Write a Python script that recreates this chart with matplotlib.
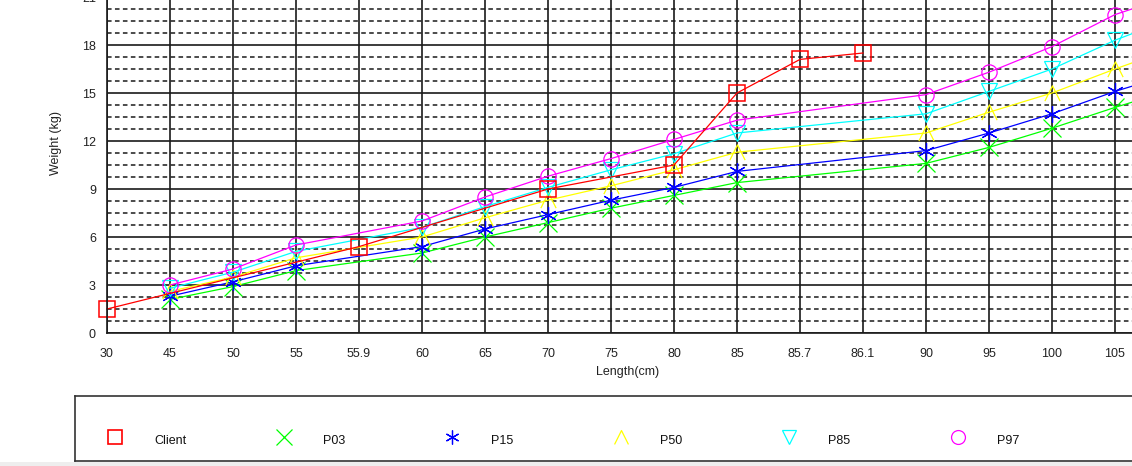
import numpy as np
import matplotlib
matplotlib.use("Agg")
import matplotlib.pyplot as plt
from matplotlib.path import Path
from matplotlib.ticker import MultipleLocator, FixedLocator
from matplotlib.patches import Rectangle

plt.rcParams['font.family'] = ['Liberation Sans', 'DejaVu Sans']

# x categories (evenly spaced on the chart); 110 lies past the cropped right edge
categories = ['30', '45', '50', '55', '55.9', '60', '65', '70', '75', '80',
              '85', '85.7', '86.1', '90', '95', '100', '105', '110']

client_x = ['30', '55.9', '70', '80', '85', '85.7', '86.1']
client_y = [1.5, 5.4, 9.0, 10.5, 15.0, 17.1, 17.5]

pct_x = ['45', '50', '55', '60', '65', '70', '75', '80', '85', '90', '95', '100', '105', '110']
p03 = [2.1, 2.9, 3.9, 5.0, 6.0, 6.9, 7.8, 8.6, 9.4, 10.6, 11.6, 12.8, 14.1, 15.3]
p15 = [2.3, 3.2, 4.2, 5.4, 6.5, 7.4, 8.3, 9.1, 10.1, 11.4, 12.5, 13.7, 15.1, 16.3]
p50 = [2.6, 3.5, 4.7, 6.0, 7.2, 8.3, 9.2, 10.2, 11.3, 12.5, 13.8, 15.0, 16.5, 17.9]
p85 = [2.8, 3.8, 5.1, 6.6, 7.9, 9.1, 10.2, 11.2, 12.5, 13.7, 15.1, 16.5, 18.3, 19.8]
p97 = [3.0, 4.0, 5.5, 7.0, 8.5, 9.8, 10.9, 12.1, 13.3, 14.9, 16.3, 17.9, 19.9, 21.2]

# open "A" marker (no base)
caret = Path([(-1, -1), (0, 1), (1, -1)], [Path.MOVETO, Path.LINETO, Path.LINETO])
asterisk = (6, 2, 0)

series = [
    ('P03', p03, '#00FF00', 'x', 13),
    ('P15', p15, '#0000FF', asterisk, 12),
    ('P50', p50, '#FFFF00', caret, 11),
    ('P85', p85, '#00FFFF', 'v', 11),
    ('P97', p97, '#FF00FF', 'o', 11),
]

W, H = 1132, 466
fig = plt.figure(figsize=(W / 100, H / 100), dpi=100)

def pos(labels):
    return [categories.index(s) for s in labels]

# main axes, partly outside the figure (the original is cropped)
ax = fig.add_axes([107 / W, 1 - 333 / H, 17 * 63 / W, 336 / H])
ax.set_xlim(0, len(categories) - 1)
ax.set_ylim(0, 21)

ax.xaxis.set_major_locator(FixedLocator(range(len(categories))))
ax.set_xticklabels(categories[:-1] + [''])
ax.yaxis.set_major_locator(MultipleLocator(3))
ax.yaxis.set_minor_locator(MultipleLocator(0.75))
ax.tick_params(axis='both', which='both', length=0, labelsize=9, colors='#222222')
ax.tick_params(axis='x', pad=11)
ax.tick_params(axis='y', pad=8)

ax.grid(True, axis='x', which='major', color='#1a1a1a', lw=1.2)
ax.grid(True, axis='y', which='major', color='#1a1a1a', lw=1.2)
ax.grid(True, axis='y', which='minor', color='#1a1a1a', lw=1.1, linestyle=(0, (3, 2.2)))
ax.set_axisbelow(True)
for s in ax.spines.values():
    s.set_color('#1a1a1a')
    s.set_linewidth(1.2)

for name, vals, col, mk, ms in series:
    ax.plot(pos(pct_x), vals, color=col, lw=0.9, marker=mk, ms=ms,
            mfc='none', mec=col, mew=0.9, clip_on=False)

ax.plot(pos(client_x), client_y, color='#FF0000', lw=0.9, marker='s', ms=12,
        mfc='none', mec='#FF0000', mew=1.1, clip_on=False)

fig.text(56 / W, 1 - 143 / H, 'Weight (kg)', rotation=90, ha='center', va='center',
         fontsize=9, color='#222222')
fig.text(628 / W, 1 - 372 / H, 'Length(cm)', ha='center', va='center',
         fontsize=9, color='#222222')

# legend box
leg = fig.add_axes([75 / W, 1 - 461 / H, (1200 - 75) / W, 65 / H])
leg.set_xlim(75, 1200)
leg.set_ylim(461, 396)
leg.set_xticks([])
leg.set_yticks([])
for s in leg.spines.values():
    s.set_color('#333333')
    s.set_linewidth(1.2)

leg_items = [('Client', '#FF0000', 's', 9.5)] + [(n, c, m, 10) for n, _, c, m, _ in series]
for i, (name, col, mk, ms) in enumerate(leg_items):
    x0 = 115 + i * 168.6
    leg.plot([x0], [437], marker=mk, ms=ms if mk != 'x' else 11, mfc='none',
             mec=col, mew=1.2 if mk == 's' else 0.9, ls='none')
    leg.text(x0 + 39, 441, name, fontsize=9, ha='left', va='center', color='#111111')

fig.add_artist(Rectangle((0, 0), 1, 4 / H, transform=fig.transFigure,
                         facecolor='#eeeeee', edgecolor='none'))

fig.savefig('out.png', dpi=100)
